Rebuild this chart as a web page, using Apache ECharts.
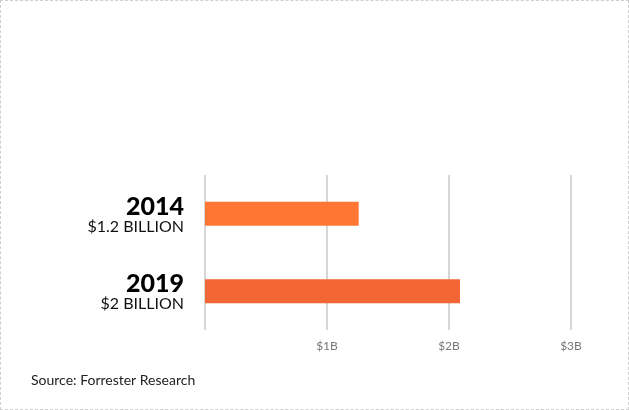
<!DOCTYPE html>
<html>
<head>
<meta charset="utf-8">
<script src="https://cdn.jsdelivr.net/npm/echarts@6/dist/echarts.min.js"></script>
<style>
  html, body { margin: 0; padding: 0; background: #fff; }
  #chart { width: 627px; height: 408px; border: 1px dashed #cfcfcf; }
</style>
</head>
<body>
<div id="chart"></div>
<script>
// data
var years = ['2014', '2019'];
var labels = ['$1.2 BILLION', '$2 BILLION'];
var values = [1.26, 2.09];
var barColors = ['#ff7733', '#f26535'];
var tickLabels = ['', '$1B', '$2B', '$3B'];

var chart = echarts.init(document.getElementById('chart'));
chart.setOption({
  animation: false,
  textStyle: { fontFamily: 'Lato' },
  grid: { left: 204, right: 57, top: 174, bottom: 79 },
  graphic: [{
    type: 'text', left: 30, top: 372,
    style: { text: 'Source: Forrester Research', font: '14px Lato', fill: '#222' }
  }],
  xAxis: {
    type: 'value', min: 0, max: 3, interval: 1,
    axisLine: { show: false }, axisTick: { show: false },
    splitLine: { lineStyle: { color: '#d6d6d6', width: 2 } },
    axisLabel: {
      color: '#777', fontSize: 12, margin: 10,
      formatter: function (v) { return tickLabels[v]; }
    }
  },
  yAxis: {
    type: 'category', inverse: true, data: years,
    axisLine: { show: false }, axisTick: { show: false },
    axisLabel: {
      margin: 21, align: 'right',
      formatter: function (v, i) { return '{y|' + v + '}\n{s|' + labels[i] + '}'; },
      rich: {
        y: { fontSize: 25, fontWeight: 900, color: '#000', align: 'right', lineHeight: 26, padding: [6, 0, 0, 0] },
        s: { fontSize: 16, color: '#111', align: 'right', lineHeight: 20 }
      }
    }
  },
  series: [{
    type: 'bar', barWidth: 24,
    data: values.map(function (v, i) { return { value: v, itemStyle: { color: barColors[i] } }; })
  }]
});
</script>
</body>
</html>
